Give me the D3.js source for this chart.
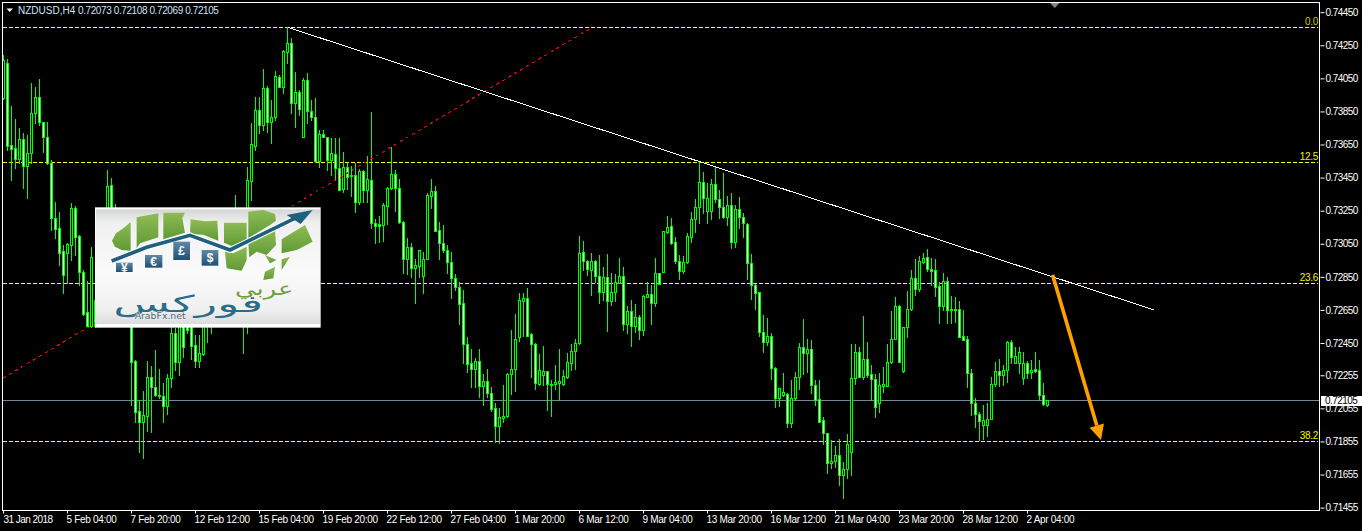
<!DOCTYPE html>
<html><head><meta charset="utf-8">
<script src="https://cdn.jsdelivr.net/npm/d3@7/dist/d3.min.js"></script>
<style>
html,body{margin:0;padding:0;background:#000;overflow:hidden}
svg{display:block}
text{font-family:"Liberation Sans",Arial,sans-serif;font-size:10px}
</style></head><body>
<svg id="c" width="1362" height="531"></svg>
<script>
// Prices in points (1/100000)
const opens=[
73932,74143,73648,73630,73563,73684,73521,73599,73841,73938,
73787,73696,73539,73207,73146,73007,72995,73043,73267,73098,
72880,72638,72554,72554,72711,72952,73224,73406,73073,72940,
72801,72711,72602,72342,72040,71973,72010,72245,72185,72136,
72130,72070,72239,72511,72336,72554,72560,72590,72439,72342,
72384,72590,72711,72620,72681,72711,72741,72801,72892,73073,
73013,73013,73430,73642,73859,73769,73992,73787,73817,74059,
73998,74210,74264,73902,73968,73696,74040,73853,73817,73551,
73714,73696,73557,73593,73509,73381,73515,73466,73466,73303,
73490,73375,73436,73176,73170,73164,73279,73388,73472,73388,
73182,72959,73031,72904,72916,72856,72959,73339,73369,73134,
73055,73013,72940,72844,72789,72693,72445,72330,72294,72342,
72191,72221,72148,72058,71949,71998,72010,72263,72294,72487,
72705,72723,72505,72445,72203,72257,72281,72203,72203,72209,
72203,72245,72330,72402,72451,73001,72946,72892,72946,72856,
72759,72850,72705,72759,72813,72856,72566,72644,72554,72608,
72529,72729,72747,72693,72874,72880,73122,73158,73061,72946,
72886,72940,73092,73201,73273,73424,73249,73249,73412,73321,
73273,73213,73285,73061,73261,73213,73170,72934,72801,72759,
72517,72457,72493,72300,72118,72136,72142,71967,72118,72245,
72427,72390,72415,72197,72112,71985,71907,71725,71737,71773,
71653,71689,71792,72239,72396,72245,72354,72263,72233,72088,
72191,72191,72336,72475,72675,72281,72548,72656,72844,72777,
72940,72971,72898,72892,72795,72675,72825,72650,72656,72656,
72493,72475,72269,72088,72022,71955,71955,71991,72203,72281,
72257,72287,72457,72330,72330,72239,72330,72275,72294,72287,
72136,72073];
const highs=[
74192,74167,73884,73805,73750,73720,73708,74022,73998,74046,
73787,73787,73557,73303,73243,73043,73055,73297,73279,73104,
72892,72825,73031,72741,73013,73255,73496,73448,73291,73104,
72952,72801,72650,72348,72106,72160,72342,72312,72408,72294,
72209,72263,72560,72542,72590,72620,72620,72650,72499,72499,
72650,72711,72771,72771,72831,72862,72892,72952,73345,73164,
73134,73515,73781,73938,73938,74107,74004,73920,74095,74071,
74222,74361,74295,74089,73980,74053,74083,73920,73932,73738,
73738,73696,73690,73690,73690,73605,73539,73521,73539,73503,
73496,73581,73847,73201,73219,73297,73394,73636,73496,73442,
73188,73086,73055,72959,73013,73001,73357,73442,73400,73182,
73164,73043,73001,72868,72819,72771,72487,72415,72360,72415,
72263,72294,72185,72088,72058,72197,72269,72529,72626,72753,
72753,72783,72511,72451,72384,72433,72281,72227,72318,72415,
72287,72390,72445,72475,73098,73067,72952,72995,72952,72983,
72910,72989,72874,72868,72965,72910,72675,72711,72687,72620,
72741,72819,72801,72965,72874,73128,73219,73207,73092,72983,
72977,73116,73243,73321,73545,73484,73418,73442,73521,73375,
73478,73339,73357,73285,73333,73237,73176,72989,72807,72759,
72620,72602,72511,72306,72179,72269,72148,72227,72275,72451,
72596,72475,72469,72227,72227,72004,71907,71864,71828,71871,
71731,71901,72445,72445,72427,72614,72457,72318,72263,72269,
72306,72445,72644,72729,72681,72548,72765,72892,72959,72977,
72995,73019,72965,72959,72819,72874,72850,72735,72729,72705,
72650,72493,72294,72118,72034,72076,72088,72245,72336,72354,
72318,72463,72469,72427,72427,72396,72342,72348,72396,72348,
72209,72108];
const lows=[
73926,73617,73436,73509,73539,73388,73327,73539,73781,73769,
73605,73533,73134,73086,72922,72753,72813,72952,72983,72801,
72620,72548,72548,72548,72681,72922,73164,73013,72892,72741,
72650,72572,72076,71973,71792,71756,71919,71913,72130,72118,
71973,72022,72185,72287,72257,72366,72511,72354,72306,72306,
72378,72457,72511,72578,72620,72650,72681,72711,72771,72831,
72390,72511,73315,73617,73720,73738,73726,73660,73799,73998,
73962,74143,73841,73757,73829,73696,73781,73799,73545,73515,
73696,73496,73466,73436,73375,73363,73381,73339,73243,73291,
73303,73303,73146,73055,73061,73067,73170,73381,73249,73176,
72874,72868,72850,72693,72850,72753,72959,73267,73128,72959,
73001,72874,72723,72771,72566,72330,72275,72185,72185,72124,
72076,72124,72040,71852,71846,71973,72004,72142,72160,72463,
72493,72493,72245,72173,72197,72197,72046,72010,72173,72106,
72197,72239,72287,72294,72445,72892,72862,72741,72819,72693,
72711,72523,72681,72705,72813,72529,72511,72433,72517,72475,
72499,72729,72566,72675,72807,72880,73116,73049,72934,72838,
72874,72934,73061,73122,73176,73237,73176,73201,73303,73207,
73207,73164,73025,73031,73146,73092,72838,72717,72656,72493,
72396,72439,72233,72064,72070,72130,71943,71943,72112,72173,
72263,72275,72148,72076,71973,71840,71665,71695,71701,71592,
71514,71635,71653,72203,72245,72233,72245,72106,72004,72034,
72154,72191,72330,72475,72336,72275,72487,72650,72741,72765,
72934,72886,72801,72735,72572,72650,72572,72572,72578,72487,
72469,72185,72016,71943,71864,71871,71889,71991,72191,72191,
72197,72215,72330,72330,72269,72203,72239,72239,72275,72106,
72076,72069];
const closes=[
74161,73642,73624,73563,73684,73521,73599,73841,73938,73787,
73696,73539,73207,73140,72995,72862,73049,73267,73092,72880,
72626,72554,72971,72711,72952,73224,73400,73073,72940,72801,
72711,72602,72336,72034,71973,72016,72245,72185,72136,72130,
72070,72239,72511,72336,72554,72427,72529,72433,72342,72390,
72590,72650,72590,72711,72771,72801,72831,72892,73073,72952,
72711,73436,73654,73859,73769,73992,73787,73817,74065,73998,
74216,74264,73902,73968,73865,74040,73853,73817,73551,73714,
73696,73557,73599,73509,73375,73515,73454,73460,73303,73490,
73375,73442,73176,73158,73158,73285,73388,73472,73388,73182,
72959,73031,72904,72922,73013,72959,73345,73369,73128,73055,
73013,72940,72844,72789,72687,72445,72324,72294,72342,72191,
72221,72148,72052,71949,72004,72010,72263,72294,72475,72711,
72723,72493,72445,72209,72287,72281,72203,72197,72215,72221,
72251,72336,72402,72451,72995,72946,72898,72946,72856,72759,
72850,72705,72759,72819,72856,72566,72644,72554,72608,72529,
72735,72747,72693,72874,72807,73128,73152,73055,72946,72886,
72940,73098,73201,73273,73424,73327,73327,73412,73321,73273,
73213,73285,73061,73261,73213,73176,72934,72801,72753,72517,
72457,72493,72300,72118,72179,72154,71967,72118,72245,72427,
72390,72415,72197,72106,71973,71907,71725,71737,71773,71653,
71689,71840,72239,72396,72245,72354,72257,72233,72064,72197,
72203,72336,72475,72675,72336,72548,72656,72844,72777,72946,
72965,72898,72886,72789,72674,72825,72650,72656,72650,72487,
72469,72269,72088,72022,71979,71985,71991,72203,72281,72257,
72287,72457,72366,72372,72396,72330,72269,72287,72281,72136,
72082,72105];

const priceTicks=[0.74450,0.74250,0.74050,0.73850,0.73650,0.73450,0.73250,0.73050,0.72850,0.72650,0.72450,0.72255,0.72055,0.71855,0.71655,0.71455];
const timeTickBars=[0,16,32,48,64,80,96,112,128,144,160,176,192,208,224,240,256];
const timeLabels=["31 Jan 2018","5 Feb 04:00","7 Feb 20:00","12 Feb 12:00","15 Feb 04:00","19 Feb 20:00","22 Feb 12:00","27 Feb 04:00","1 Mar 20:00","6 Mar 12:00","9 Mar 04:00","13 Mar 20:00","16 Mar 12:00","21 Mar 04:00","23 Mar 20:00","28 Mar 12:00","2 Apr 04:00"];
const fibLevels=[["0.0",0.74358],["12.5",0.73545],["23.6",0.72813],["38.2",0.71858]];
const lastPrice=0.72105;
const trendBars=[71.25,287.8], trendPrices=[0.74358,0.72650];
const fibRayBars=[0,147.25], fibRayPrices=[0.72238,0.74358];
const arrowBars=[262.4,274.5], arrowPrices=[0.72862,0.71864];

const svg=d3.select("#c");
const L=2.5,T=2.5,R=1319.5,B=510.5;
const x=d3.scaleLinear().domain([0,16]).range([3,67]);
const y=d3.scaleLinear().domain([0.7445,0.71455]).range([12.2,507.6]);
const Y=v=>Math.round(y(v));

svg.append("defs").append("clipPath").attr("id","pl").append("rect").attr("x",3).attr("y",3).attr("width",1316).attr("height",507);
const plot=svg.append("g").attr("clip-path","url(#pl)");

// last price line + fib levels
plot.append("line").attr("x1",L).attr("x2",R).attr("y1",Y(lastPrice)+.5).attr("y2",Y(lastPrice)+.5).attr("stroke","#778899");
plot.selectAll(".fib").data(fibLevels).join("line").attr("x1",3).attr("x2",1318)
 .attr("y1",d=>Y(d[1])+.5).attr("y2",d=>Y(d[1])+.5).attr("stroke","#ffff00").attr("stroke-dasharray","4,2");

// candles
const bars=d3.range(opens.length);
const g=plot.append("g");
g.selectAll(".w").data(bars).join("line")
 .attr("x1",i=>x(i)+.5).attr("x2",i=>x(i)+.5)
 .attr("y1",i=>Y(highs[i]/1e5)).attr("y2",i=>Y(lows[i]/1e5)+1)
 .attr("stroke","#00ff00");
g.selectAll(".b").data(bars).join("rect")
 .attr("x",i=>x(i)-.5).attr("width",2)
 .attr("y",i=>Y(Math.max(opens[i],closes[i])/1e5)+.5)
 .attr("height",i=>Math.max(0,Y(Math.min(opens[i],closes[i])/1e5)-Y(Math.max(opens[i],closes[i])/1e5)))
 .attr("fill",i=>closes[i]>=opens[i]?"#000":"#fff")
 .attr("stroke","#00ff00");

// red dotted fib ray
plot.append("line").attr("x1",x(fibRayBars[0])).attr("x2",x(fibRayBars[1]))
 .attr("y1",y(fibRayPrices[0])).attr("y2",y(fibRayPrices[1]))
 .attr("stroke","#ff0000").attr("stroke-dasharray","3,4").attr("shape-rendering","crispEdges");
// white trend line
plot.append("line").attr("x1",x(trendBars[0])).attr("x2",x(trendBars[1]))
 .attr("y1",y(trendPrices[0])).attr("y2",y(trendPrices[1]))
 .attr("stroke","#fff").attr("shape-rendering","crispEdges");

// orange arrow
const ax0=x(arrowBars[0]),ay0=y(arrowPrices[0]),ax1=x(arrowBars[1]),ay1=y(arrowPrices[1]);
const ang=Math.atan2(ay1-ay0,ax1-ax0),hl=15,hw=7.5;
const bx=ax1-hl*Math.cos(ang),by=ay1-hl*Math.sin(ang);
plot.append("line").attr("x1",ax0).attr("y1",ay0).attr("x2",bx).attr("y2",by).attr("stroke","#ffa000").attr("stroke-width",3.6);
plot.append("path").attr("fill","#ffa000")
 .attr("d",d3.line()([[ax1,ay1],[bx-hw*Math.sin(ang),by+hw*Math.cos(ang)],[bx+hw*Math.sin(ang),by-hw*Math.cos(ang)]])+"Z");

// fib labels
plot.selectAll(".fl").data(fibLevels).join("text").attr("x",1318).attr("y",d=>Y(d[1])-2)
 .attr("text-anchor","end").attr("fill",(d,i)=>i?"#f0f000":"#c8c800").style("letter-spacing","-0.3px").text(d=>d[0]);

// logo
const defs=svg.select("defs");
const lg=defs.append("linearGradient").attr("id","bg").attr("x1",0).attr("y1",0).attr("x2",0).attr("y2",1);
[[0,"#d4d6d6"],[.12,"#f0f0f0"],[.55,"#fbfbfb"],[.88,"#f0f0f0"],[1,"#dcdcdc"]].forEach(s=>lg.append("stop").attr("offset",s[0]).attr("stop-color",s[1]));
const lb=defs.append("linearGradient").attr("id","tag").attr("x1",0).attr("y1",0).attr("x2",0).attr("y2",1);
[[0,"#5f8aa6"],[1,"#1f4f75"]].forEach(s=>lb.append("stop").attr("offset",s[0]).attr("stop-color",s[1]));
const lgr=defs.append("linearGradient").attr("id","gr").attr("x1",0).attr("y1",0).attr("x2",0).attr("y2",1);
[[0,"#8fbb55"],[1,"#5f9a35"]].forEach(s=>lgr.append("stop").attr("offset",s[0]).attr("stop-color",s[1]));
const logo=svg.append("g").attr("transform","translate(90,200) scale(0.3333)");
logo.append("rect").attr("x",15).attr("y",22).attr("width",677).attr("height",361).attr("fill","#fff");
logo.append("rect").attr("x",18).attr("y",28).attr("width",672).attr("height",344).attr("fill","url(#bg)");
const greens=[
[[122,66],[100,85],[78,100],[66,122],[75,140],[95,150],[122,152]],
[[140,52],[205,40],[205,112],[150,130],[140,145]],
[[220,38],[285,38],[277,55],[285,98],[220,118]],
[[302,58],[345,64],[382,62],[385,122],[340,104],[300,102]],
[[402,68],[470,68],[470,120],[425,138],[402,128]],
[[405,155],[430,160],[470,140],[470,180],[455,212],[410,205]],
[[475,35],[520,30],[555,42],[558,62],[540,75],[475,115]],
[[475,130],[555,88],[558,135],[530,165],[500,155],[478,172]],
[[575,118],[645,75],[668,125],[620,150],[575,160]],
[[525,165],[560,180],[540,190]],
[[575,178],[600,170],[575,210]],
[[525,215],[555,200],[550,235],[520,240]]];
logo.selectAll(".g").data(greens).join("path").attr("fill","url(#gr)").attr("d",p=>d3.line()(p)+"Z");
const arrowPath=d3.line()([[65,183],[170,142],[300,106],[420,150],[625,50]]);
logo.append("path").attr("fill","none").attr("stroke","#fff").attr("stroke-width",17).attr("d",arrowPath);
logo.append("path").attr("fill","none").attr("stroke","#1f5f80").attr("stroke-width",11).attr("d",arrowPath);
logo.append("path").attr("fill","#1f5f80").attr("d","M590,45L668,30L632,72Z");
const tags=[[78,188,50,28,"¥"],[165,165,52,38,"€"],[250,125,50,55,"£"],[335,150,50,47,"$"]];
logo.selectAll(".t").data(tags).join("rect").attr("x",d=>d[0]).attr("y",d=>d[1]).attr("width",d=>d[2]).attr("height",d=>d[3]).attr("fill","url(#tag)");
logo.selectAll(".s").data(tags).join("text").attr("x",d=>d[0]+d[2]/2).attr("y",d=>d[1]+d[3]/2+13).attr("text-anchor","middle")
 .attr("fill","#fff").style("font-size","36px").style("font-weight","bold").text(d=>d[4]);
logo.append("text").attr("x",610).attr("y",285).attr("text-anchor","end").attr("fill","#6ea03a")
 .style("font-family","'DejaVu Sans'").style("font-size","56px").attr("textLength",175).attr("lengthAdjust","spacingAndGlyphs").text("عربي");
logo.append("text").attr("x",70).attr("y",335).attr("fill","#2a6d88")
 .style("font-family","'DejaVu Sans'").style("font-size","70px").attr("textLength",450).attr("lengthAdjust","spacingAndGlyphs").text("فوركس");
logo.append("text").attr("x",134).attr("y",357).attr("fill","#4b6474").attr("stroke","#f0f0f0").attr("stroke-width",3).attr("paint-order","stroke")
 .style("font-family","'DejaVu Sans'").style("font-size","28px").text("ArabFx.net");

// frame
svg.append("rect").attr("x",L).attr("y",T).attr("width",R-L).attr("height",B-T).attr("fill","none").attr("stroke","#fff");

// axes
const ya=svg.append("g").attr("transform",`translate(${R+1},0)`).call(d3.axisRight(y).tickValues(priceTicks).tickFormat(d3.format(".5f")).tickSize(4).tickPadding(1));
const xa=svg.append("g").attr("transform",`translate(0,${B})`).call(d3.axisBottom(x).tickValues(timeTickBars).tickFormat((d,i)=>timeLabels[i]).tickSize(3).tickPadding(2));
[ya,xa].forEach(a=>{a.select(".domain").remove();a.selectAll("line").attr("stroke","#fff");a.selectAll("text").attr("fill","#fff").style("font-size","10px").style("letter-spacing","-0.55px").style("font-family",'"Liberation Sans"');a.attr("font-size",null).attr("font-family",null);});
xa.selectAll("text").attr("text-anchor","start").style("letter-spacing","-0.3px");
xa.selectAll(".tick").filter((d,i)=>i==0).select("text").style("letter-spacing","-0.55px");
xa.selectAll(".tick").filter((d,i)=>i>0).select("text").attr("dx",-1);

// last price tag
svg.append("rect").attr("x",1321).attr("y",396).attr("width",41).attr("height",10).attr("fill","#fff");
svg.append("text").attr("x",1325).attr("y",y(lastPrice)+4).attr("fill","#000").style("letter-spacing","-0.55px").text(d3.format(".5f")(lastPrice));

// header
svg.append("path").attr("fill","#fff").attr("d",d3.line()([[6.5,8.5],[13,8.5],[9.7,12]])+"Z");
svg.append("text").attr("x",18).attr("y",14).attr("fill","#c9e4fa").text("NZDUSD,H4");
svg.append("text").attr("x",78).attr("y",14).attr("fill","#c9e4fa").style("letter-spacing","-0.4px").text([opens,highs,lows,closes].map(a=>(a[a.length-1]/1e5).toFixed(5)).join(" "));
// shift marker
svg.append("path").attr("fill","#778899").attr("d",d3.line()([[1050,3],[1059.5,3],[1054.8,8]])+"Z");
</script></body></html>
